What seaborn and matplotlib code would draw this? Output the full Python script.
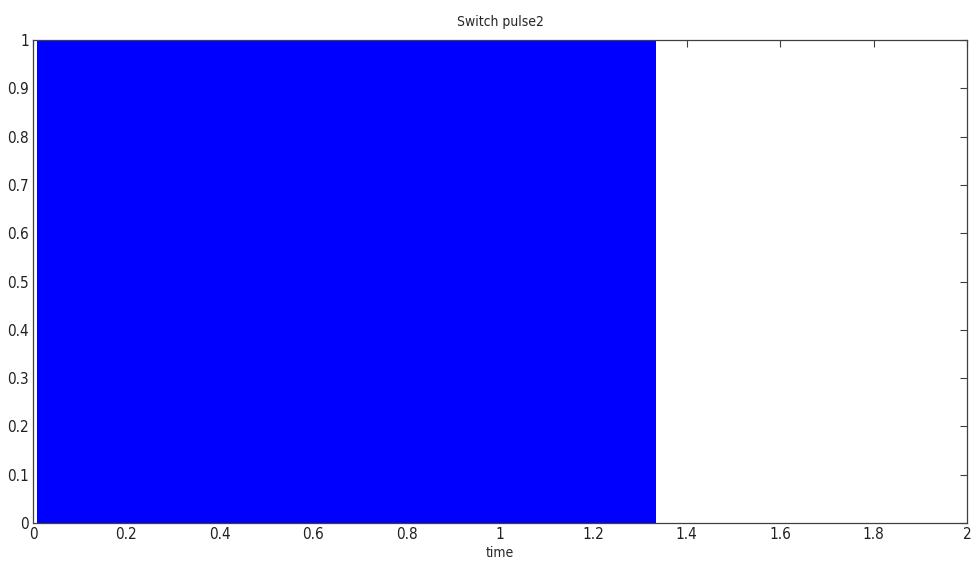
import matplotlib
matplotlib.use("Agg")
import matplotlib.pyplot as plt
import seaborn as sns
import numpy as np

sns.set_style("white")
plt.rcParams['font.family'] = ['Liberation Sans Narrow', 'DejaVu Sans']
plt.rcParams['font.stretch'] = 'condensed'

# Switching pulse: densely switching between 0 and 1 over this interval (appears solid)
pulse_time = [0.009, 1.334]
pulse_high = [1.0, 1.0]
pulse_low = [0.0, 0.0]

x_ticks = [0, 0.2, 0.4, 0.6, 0.8, 1, 1.2, 1.4, 1.6, 1.8, 2]
y_ticks = [0, 0.1, 0.2, 0.3, 0.4, 0.5, 0.6, 0.7, 0.8, 0.9, 1]

fig = plt.figure(figsize=(9.74, 5.67), dpi=100)
ax = fig.add_axes([33/974, 1 - 523/567, (967-33)/974, (523-40)/567])

ax.fill_between(pulse_time, pulse_low, pulse_high, color='#0000ff', linewidth=0)
sns.lineplot(x=pulse_time, y=pulse_high, ax=ax, color='#0000ff', linewidth=0.8)

ax.set_xlim(0, 2)
ax.set_ylim(0, 1)
ax.set_xticks(x_ticks)
ax.set_xticklabels([f"{v:g}" for v in x_ticks])
ax.set_yticks(y_ticks)
ax.set_yticklabels([f"{v:g}" for v in y_ticks])
ax.tick_params(direction='in', length=5, width=0.8, colors='#404040',
               labelcolor='#202020', labelsize=11, top=True, right=True, pad=3)
for s in ax.spines.values():
    s.set_color('#404040')
    s.set_linewidth(0.9)
ax.set_title("Switch pulse2", fontsize=10, pad=10)
ax.set_xlabel("time", fontsize=10, labelpad=3)

fig.savefig("out.png", dpi=100, facecolor='white')
